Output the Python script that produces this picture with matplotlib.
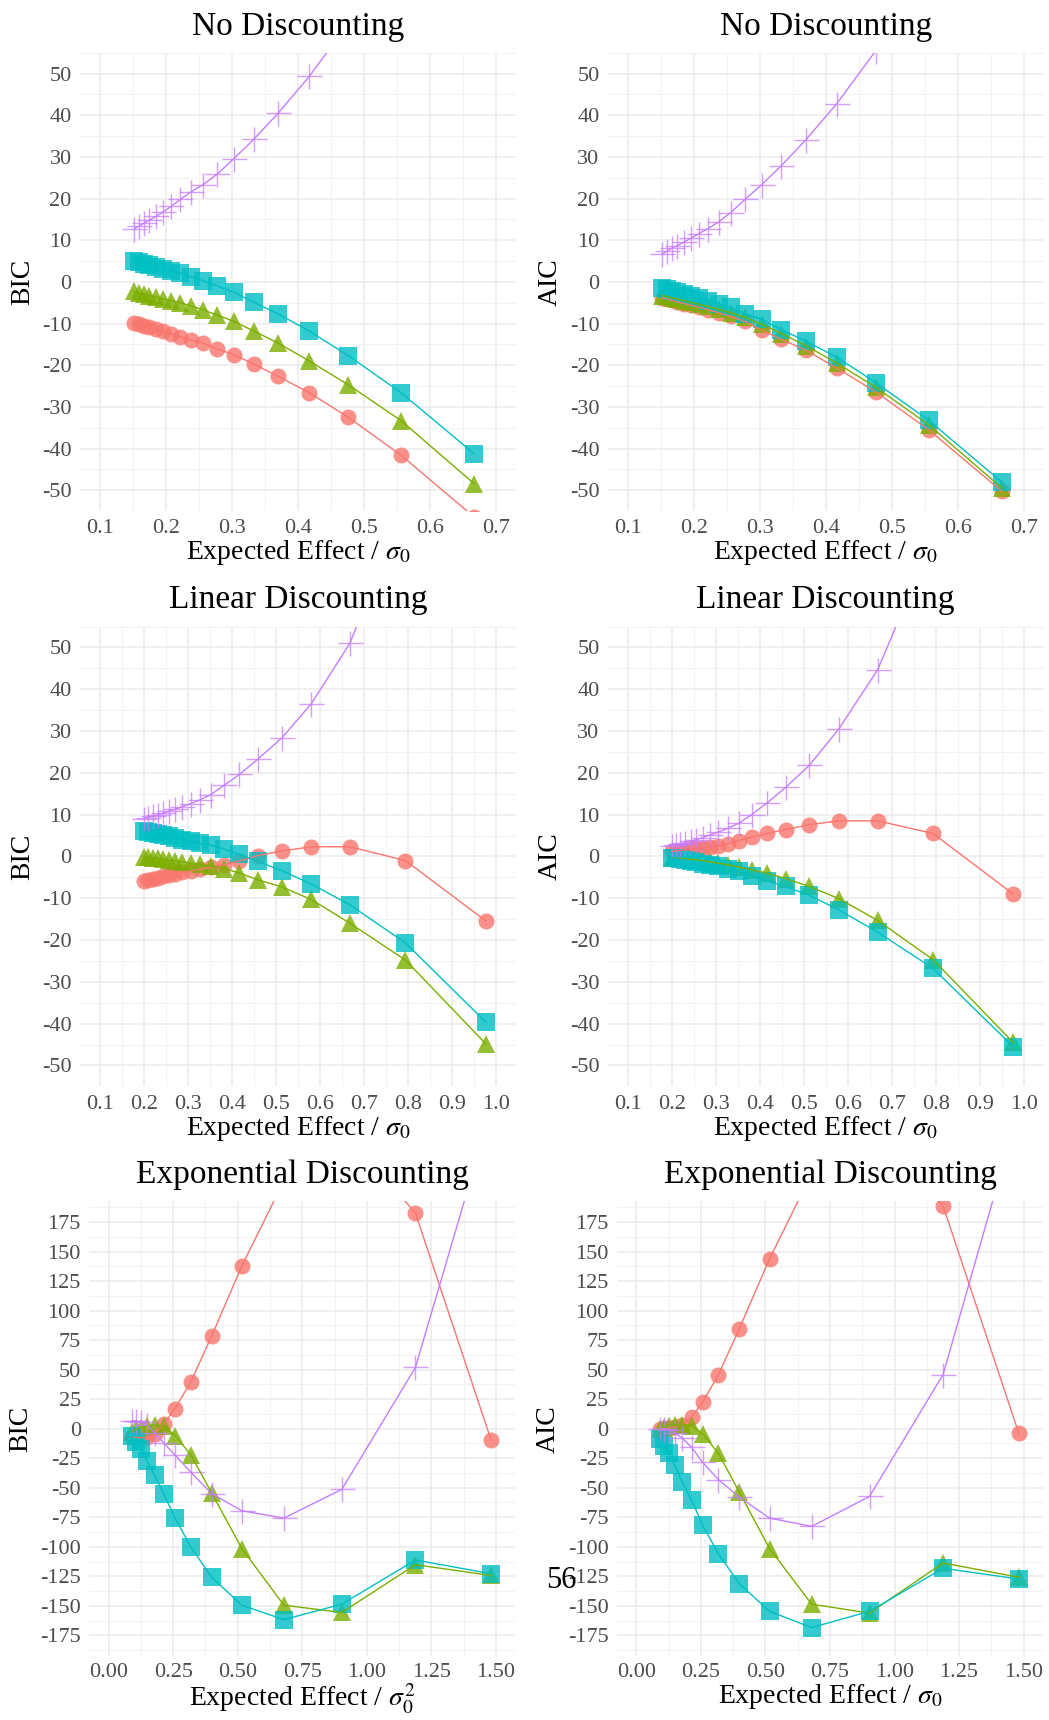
import matplotlib.pyplot as plt
from matplotlib.ticker import MultipleLocator, FixedLocator

plt.rcParams['font.family'] = ['Liberation Serif', 'DejaVu Serif']
plt.rcParams['mathtext.fontset'] = 'stix'
plt.rcParams['axes.unicode_minus'] = False

# x values (expected effect) for each discounting scheme
x_none = [0.152, 0.159, 0.167, 0.175, 0.185, 0.196, 0.208, 0.222, 0.238, 0.256,
          0.278, 0.303, 0.333, 0.370, 0.417, 0.476, 0.556, 0.667]
x_linear = [0.200, 0.210, 0.220, 0.231, 0.243, 0.256, 0.271, 0.287, 0.306, 0.327,
            0.352, 0.382, 0.417, 0.459, 0.513, 0.580, 0.668, 0.794, 0.976]
x_exp = [0.091, 0.108, 0.126, 0.149, 0.178, 0.214, 0.257, 0.318, 0.399, 0.516,
         0.679, 0.903, 1.188, 1.481]

# No discounting - BIC
none_bic_red = [-9.9, -10.2, -10.5, -10.9, -11.4, -11.9, -12.5, -13.2, -14.0, -14.7,
                -16.1, -17.5, -19.7, -22.7, -26.6, -32.5, -41.6, -56.5]
none_bic_green = [-2.3, -2.6, -3.0, -3.3, -3.6, -4.1, -4.5, -5.0, -5.8, -6.7,
                  -8.0, -9.5, -11.8, -14.7, -19.0, -24.7, -33.3, -48.5]
none_bic_cyan = [4.9, 4.7, 4.3, 4.0, 3.6, 3.1, 2.7, 2.1, 1.2, 0.3,
                 -1.0, -2.5, -4.9, -7.7, -11.8, -17.7, -26.6, -41.3]
none_bic_purple = [12.7, 13.4, 14.1, 14.8, 15.7, 16.8, 18.1, 19.8, 21.6, 23.3,
                   25.9, 29.6, 34.2, 40.5, 49.3, 62.0, 85.0, 125.0]

# No discounting - AIC
none_aic_red = [-3.8, -4.1, -4.4, -4.8, -5.2, -5.6, -6.1, -6.7, -7.4, -8.3,
                -9.5, -11.6, -13.8, -16.4, -20.7, -26.4, -35.5, -50.3]
none_aic_green = [-3.3, -3.5, -3.8, -4.1, -4.5, -4.9, -5.4, -5.9, -6.6, -7.4,
                  -8.5, -10.2, -12.4, -15.3, -19.5, -25.3, -34.3, -49.5]
none_aic_cyan = [-1.5, -1.8, -2.1, -2.5, -2.9, -3.4, -3.9, -4.5, -5.2, -6.1,
                 -7.7, -9.0, -11.5, -14.2, -18.1, -24.2, -33.2, -48.1]
none_aic_purple = [6.6, 7.3, 8.1, 8.7, 9.5, 10.5, 11.6, 12.8, 14.4, 16.6,
                   19.8, 23.3, 27.9, 34.1, 42.8, 55.5, 72.0, 100.0]

# Linear discounting - BIC
lin_bic_red = [-6.0, -5.7, -5.4, -5.1, -4.8, -4.5, -4.2, -3.8, -3.5, -3.1,
               -2.6, -2.0, -1.1, 0.2, 1.3, 2.3, 2.3, -1.0, -15.4]
lin_bic_green = [-0.1, -0.2, -0.4, -0.5, -0.7, -0.9, -1.1, -1.3, -1.6, -1.9,
                 -2.3, -2.9, -4.0, -5.6, -7.3, -10.3, -16.0, -24.8, -44.8]
lin_bic_cyan = [6.0, 5.8, 5.6, 5.4, 5.1, 4.8, 4.4, 4.0, 3.6, 3.1,
                2.7, 1.8, 0.5, -1.2, -3.4, -6.6, -11.6, -20.7, -39.6]
lin_bic_purple = [9.0, 9.3, 9.6, 9.9, 10.3, 10.8, 11.3, 11.9, 12.6, 13.5,
                  14.8, 17.0, 19.6, 23.3, 28.3, 36.5, 51.0, 85.0, 160.0]

# Linear discounting - AIC
lin_aic_red = [1.2, 1.3, 1.4, 1.6, 1.7, 1.9, 2.1, 2.3, 2.5, 3.0,
               3.8, 4.6, 5.5, 6.4, 7.6, 8.5, 8.5, 5.5, -9.0]
lin_aic_green = [-0.3, -0.4, -0.5, -0.6, -0.7, -0.8, -1.0, -1.3, -1.6, -2.0,
                 -2.5, -3.2, -4.0, -5.3, -7.2, -10.1, -15.3, -24.7, -44.5]
lin_aic_cyan = [-0.3, -0.5, -0.7, -0.9, -1.1, -1.4, -1.7, -2.0, -2.4, -2.9,
                -3.6, -4.6, -5.8, -7.2, -9.3, -12.8, -18.1, -26.8, -45.5]
lin_aic_purple = [2.6, 2.8, 3.0, 3.3, 3.6, 4.0, 4.5, 5.1, 5.8, 6.7,
                  7.9, 10.0, 12.8, 16.5, 21.8, 30.5, 44.6, 76.0, 130.0]

# Exponential discounting - BIC
exp_bic_red = [-7.0, -7.4, -7.6, -7.0, -4.5, 4.0, 17.0, 39.5, 78.4, 137.9,
               210.0, 254.0, 182.6, -9.7]
exp_bic_green = [-2.5, -0.5, 1.0, 2.0, 3.0, 2.0, -5.8, -21.9, -54.4, -101.5,
                 -149.5, -155.6, -115.2, -124.3]
exp_bic_cyan = [-5.8, -11.5, -17.5, -27.5, -39.5, -55.5, -75.5, -100.0, -125.8, -149.5,
                -161.7, -148.6, -111.2, -122.8]
exp_bic_purple = [6.5, 6.8, 5.5, 3.0, -3.5, -12.2, -22.3, -36.8, -55.0, -69.5,
                  -75.7, -51.4, 51.9, 270.0]

# Exponential discounting - AIC
exp_aic_red = [0.0, 0.5, 1.0, 1.5, 3.5, 10.0, 22.5, 45.9, 84.8, 144.0,
               216.0, 256.0, 188.7, -3.7]
exp_aic_green = [-0.5, 1.0, 2.0, 3.0, 3.5, 2.5, -4.3, -21.0, -53.8, -101.5,
                 -148.6, -156.2, -113.7, -125.8]
exp_aic_cyan = [-9.0, -14.5, -21.0, -31.0, -45.3, -60.5, -81.8, -106.1, -131.3, -154.7,
                -168.4, -154.7, -118.2, -127.3]
exp_aic_purple = [0.0, 0.0, -1.0, -3.5, -8.0, -15.8, -28.6, -43.2, -58.0, -75.7,
                  -82.7, -57.4, 45.9, 270.0]

colors = ['#F8766D', '#7CAE00', '#00BFC4', '#C77CFF']
markers = ['o', '^', 's', '+']
msizes = [11.5, 13, 12.5, 18]

W, H = 1049, 1720
fig = plt.figure(figsize=(W / 100, H / 100), dpi=100)


def rect(l, r, top, bot):
    return [l / W, 1 - bot / H, (r - l) / W, (bot - top) / H]


panels = [
    (rect(80, 516, 52.7, 511), 'No Discounting', 'BIC', x_none,
     [none_bic_red, none_bic_green, none_bic_cyan, none_bic_purple], 'none'),
    (rect(607.8, 1043.5, 52.7, 511), 'No Discounting', 'AIC', x_none,
     [none_aic_red, none_aic_green, none_aic_cyan, none_aic_purple], 'none'),
    (rect(80, 516, 626.5, 1086.3), 'Linear Discounting', 'BIC', x_linear,
     [lin_bic_red, lin_bic_green, lin_bic_cyan, lin_bic_purple], 'linear'),
    (rect(607.8, 1043.5, 626.5, 1086.3), 'Linear Discounting', 'AIC', x_linear,
     [lin_aic_red, lin_aic_green, lin_aic_cyan, lin_aic_purple], 'linear'),
    (rect(89.2, 515.4, 1201.4, 1656), 'Exponential Discounting', 'BIC', x_exp,
     [exp_bic_red, exp_bic_green, exp_bic_cyan, exp_bic_purple], 'exp'),
    (rect(617, 1043, 1201.4, 1656), 'Exponential Discounting', 'AIC', x_exp,
     [exp_aic_red, exp_aic_green, exp_aic_cyan, exp_aic_purple], 'exp'),
]

for i, (pos, title, ylab, xs, series, kind) in enumerate(panels):
    ax = fig.add_axes(pos)
    for s in ax.spines.values():
        s.set_visible(False)

    # points first, lines on top (as in the original)
    for ys, c, m, ms in zip(series, colors, markers, msizes):
        if m == '+':
            ax.plot(xs, ys, linestyle='none', marker=m, ms=ms, mew=1.0,
                    color=c, alpha=0.75, zorder=3)
        else:
            ax.plot(xs, ys, linestyle='none', marker=m, ms=ms, mew=0,
                    color=c, alpha=0.8, zorder=3)
    for ys, c in zip(series, colors):
        ax.plot(xs, ys, color=c, lw=1.0, zorder=4)

    if kind == 'none':
        ax.set_xlim(0.07, 0.73)
        ax.xaxis.set_major_locator(FixedLocator([0.1, 0.2, 0.3, 0.4, 0.5, 0.6, 0.7]))
        ax.xaxis.set_minor_locator(MultipleLocator(0.05))
        ax.set_xticklabels(['0.1', '0.2', '0.3', '0.4', '0.5', '0.6', '0.7'])
    elif kind == 'linear':
        ax.set_xlim(0.055, 1.045)
        ticks = [0.1, 0.2, 0.3, 0.4, 0.5, 0.6, 0.7, 0.8, 0.9, 1.0]
        ax.xaxis.set_major_locator(FixedLocator(ticks))
        ax.xaxis.set_minor_locator(MultipleLocator(0.05))
        ax.set_xticklabels(['%.1f' % t for t in ticks])
    else:
        ax.set_xlim(-0.075, 1.575)
        ticks = [0.0, 0.25, 0.5, 0.75, 1.0, 1.25, 1.5]
        ax.xaxis.set_major_locator(FixedLocator(ticks))
        ax.xaxis.set_minor_locator(MultipleLocator(0.125))
        ax.set_xticklabels(['%.2f' % t for t in ticks])

    if kind == 'exp':
        ax.set_ylim(-192.5, 192.5)
        yt = list(range(-175, 176, 25))
        ax.yaxis.set_major_locator(FixedLocator(yt))
        ax.yaxis.set_minor_locator(MultipleLocator(12.5))
    else:
        ax.set_ylim(-55, 55)
        yt = list(range(-50, 51, 10))
        ax.yaxis.set_major_locator(FixedLocator(yt))
        ax.yaxis.set_minor_locator(MultipleLocator(5))
    ax.set_yticklabels([str(t) for t in yt])

    ax.grid(which='major', color='#EBEBEB', lw=1.1, zorder=0)
    ax.grid(which='minor', color='#F2F2F2', lw=0.7, zorder=0)
    ax.set_axisbelow(True)
    ax.tick_params(which='both', length=0, labelsize=16, labelcolor='#4D4D4D')
    ax.tick_params(axis='y', pad=6)
    ax.tick_params(axis='x', pad=6 if kind != 'exp' else 5)

    ax.set_title(title, fontsize=24, pad=13)
    ax.set_ylabel(ylab, fontsize=20, labelpad=5)
    if kind == 'exp' and ylab == 'BIC':
        ax.set_xlabel(r'Expected Effect / $\sigma_0^2$', fontsize=20, labelpad=0)
    else:
        ax.set_xlabel(r'Expected Effect / $\sigma_0$', fontsize=20, labelpad=0)

# page number overlapping the last panel in the original
fig.text(561 / W, 1 - 1580 / H, '56', fontsize=22, ha='center', va='center')

fig.savefig('out.png', dpi=100)
